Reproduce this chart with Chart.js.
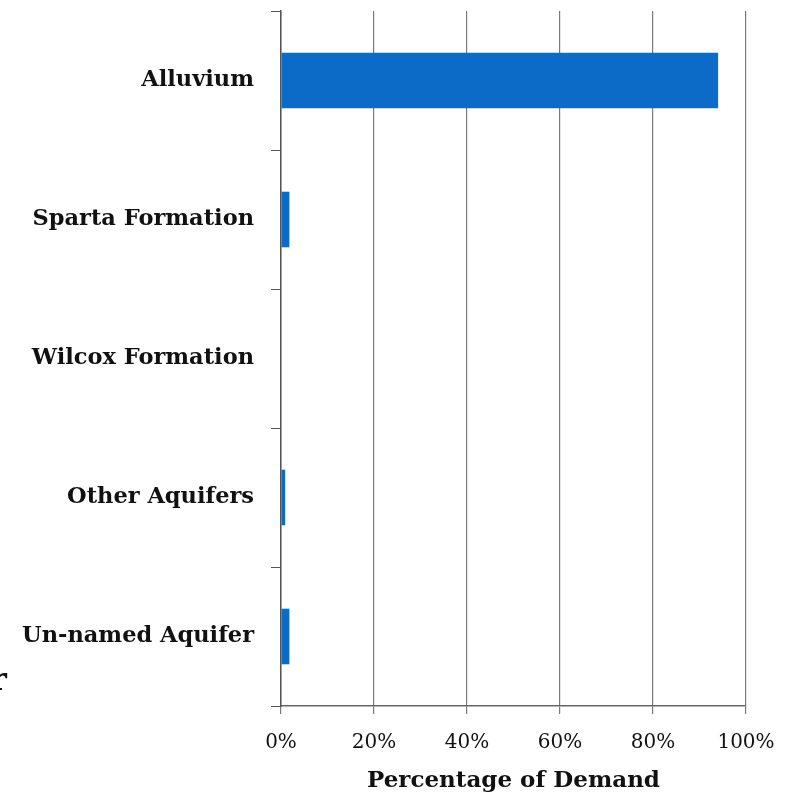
<!DOCTYPE html>
<html>
<head>
<meta charset="utf-8">
<script src="https://cdn.jsdelivr.net/npm/chart.js@4.4.1/dist/chart.umd.min.js"></script>
<style>
  html, body { margin: 0; padding: 0; background: #fff; }
  #wrap { width: 791px; height: 795px; position: relative; }
</style>
</head>
<body>
<div id="wrap"><canvas id="c" width="791" height="795"></canvas></div>
<script>
// Groundwater sources and their share of total demand (%)
const aquifers = ['Alluvium', 'Sparta Formation', 'Wilcox Formation', 'Other Aquifers', 'Un-named Aquifer'];
const demandShare = [94, 1.8, 0, 0.9, 1.8];
const xTickValues = [0, 20, 40, 60, 80, 100];
const xTitle = 'Percentage of Demand';

const serif = "'DejaVu Serif', 'Liberation Serif', serif";

// Partial heading glyph at the left margin
const marginGlyph = {
  id: 'marginGlyph',
  afterDraw(chart) {
    const ctx = chart.ctx;
    ctx.save();
    ctx.fillStyle = '#111';
    ctx.font = 'bold 32px ' + serif;
    ctx.textBaseline = 'alphabetic';
    ctx.fillText('r', -10, 690);
    ctx.restore();
  }
};

function noEdgePadding(scale) {
  scale.paddingTop = 0;
  scale.paddingBottom = 0;
  scale.paddingLeft = 0;
  scale.paddingRight = 0;
}

new Chart(document.getElementById('c'), {
  type: 'bar',
  data: {
    labels: aquifers,
    datasets: [{
      data: demandShare,
      backgroundColor: '#0B6BC7',
      borderWidth: 0,
      categoryPercentage: 1,
      barPercentage: 0.4
    }]
  },
  options: {
    indexAxis: 'y',
    responsive: false,
    animation: false,
    layout: { autoPadding: false, padding: { top: 11, right: 45, left: 0, bottom: 0 } },
    plugins: { legend: { display: false }, tooltip: { enabled: false } },
    scales: {
      x: {
        min: 0,
        max: 100,
        afterBuildTicks(scale) {
          scale.ticks = xTickValues.map(v => ({ value: v }));
        },
        afterFit(scale) { scale.height = 89; noEdgePadding(scale); },
        ticks: {
          callback: v => v + '%',
          color: '#111',
          font: { family: serif, size: 20 },
          padding: 17,
          maxRotation: 0
        },
        grid: {
          color: '#7a7a7a',
          lineWidth: 1.2,
          tickLength: 8,
          drawTicks: true
        },
        border: { color: '#666', width: 1.5 },
        title: {
          display: true,
          text: xTitle,
          color: '#111',
          font: { family: serif, size: 23, weight: 'bold' },
          padding: { top: 0, bottom: 0 }
        }
      },
      y: {
        afterFit(scale) { scale.width = 281; noEdgePadding(scale); },
        ticks: {
          color: '#111',
          font: { family: serif, size: 22.5, weight: 'bold' },
          padding: 17
        },
        grid: {
          offset: true,
          drawOnChartArea: false,
          color: '#555',
          tickLength: 10
        },
        border: { color: '#555', width: 1.5 }
      }
    }
  },
  plugins: [marginGlyph]
});
</script>
</body>
</html>
